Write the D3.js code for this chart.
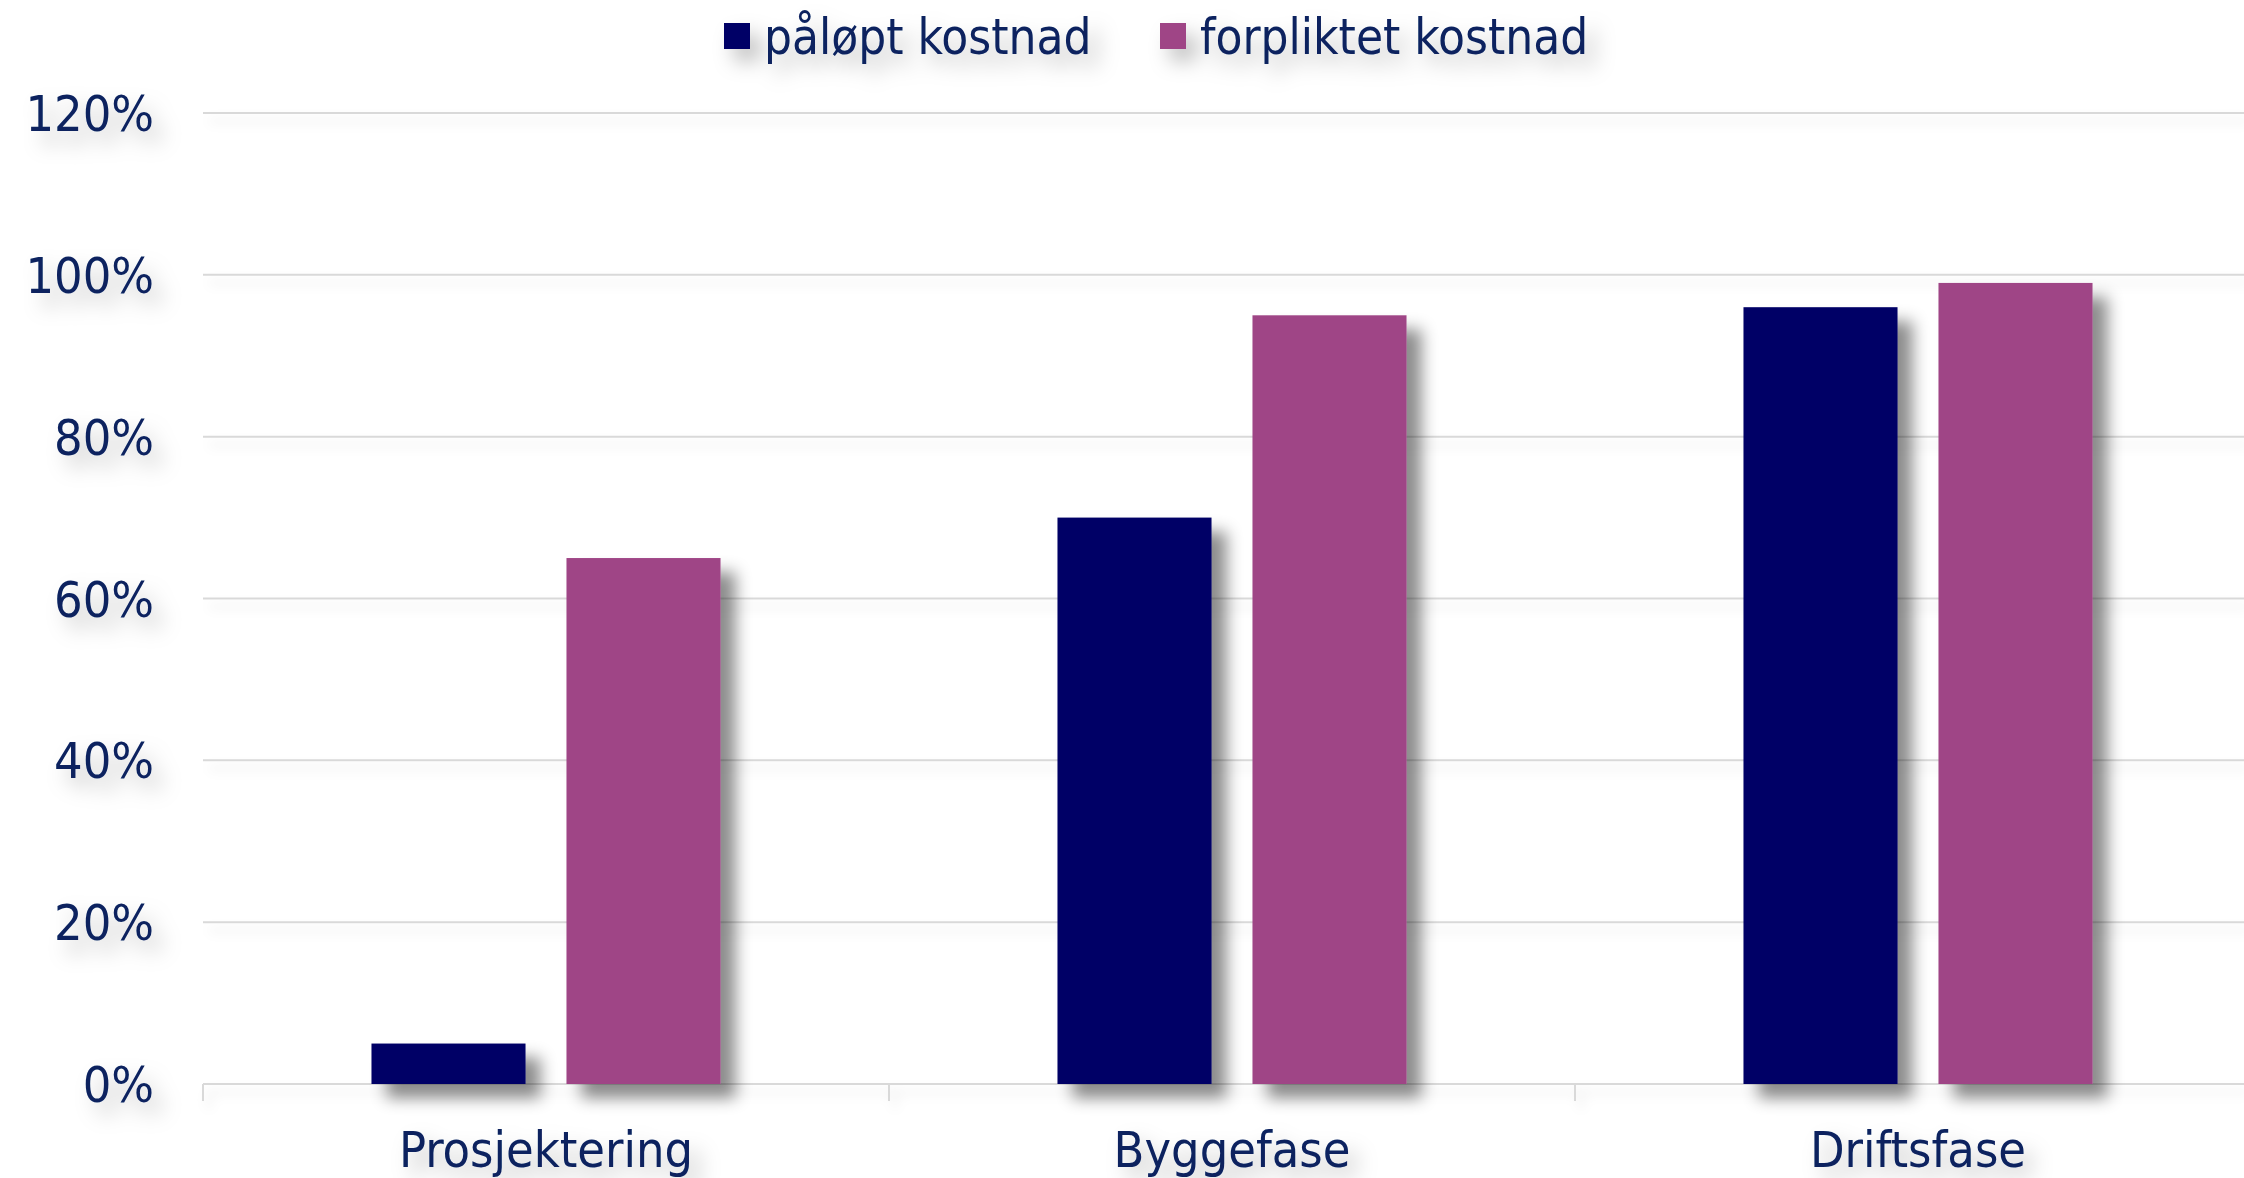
<!DOCTYPE html>
<html><head><meta charset="utf-8">
<script src="https://cdn.jsdelivr.net/npm/d3@7"></script>
<style>html,body{margin:0;padding:0;background:#fff;overflow:hidden}</style>
</head><body>
<svg id="c" width="2244" height="1178"></svg>
<script>
const categories = ["Prosjektering", "Byggefase", "Driftsfase"];
const seriesNames = ["påløpt kostnad", "forpliktet kostnad"];
const seriesColors = ["#000066", "#9F4586"];
const paloptValues = [5, 70, 96];
const forpliktetValues = [65, 95, 99];
const yTicks = [0, 20, 40, 60, 80, 100, 120];

const W = 2244, H = 1178;
const m = {left: 203, top: 113, bottom: H - 1084};
const bandW = 686;
const svg = d3.select("#c");
const textColor = "#08205E";
const font = "'DejaVu Sans Condensed','DejaVu Sans',sans-serif";

const defs = svg.append("defs");
const f1 = defs.append("filter").attr("id","barShadow").attr("x","-20%").attr("y","-20%").attr("width","150%").attr("height","150%");
f1.append("feDropShadow").attr("dx",15).attr("dy",14).attr("stdDeviation",8).attr("flood-color","#000").attr("flood-opacity",0.45);
const f2 = defs.append("filter").attr("id","textShadow").attr("x","-20%").attr("y","-40%").attr("width","150%").attr("height","220%");
f2.append("feDropShadow").attr("dx",10).attr("dy",12).attr("stdDeviation",10).attr("flood-color","#000").attr("flood-opacity",0.25);
const f3 = defs.append("filter").attr("id","lineShadow").attr("x","-5%").attr("y","-500%").attr("width","110%").attr("height","1100%");
f3.append("feDropShadow").attr("dx",6).attr("dy",8).attr("stdDeviation",6).attr("flood-color","#000").attr("flood-opacity",0.12);

const x0 = d3.scaleBand().domain(categories).range([m.left, m.left + bandW*categories.length]).padding(0);
const x1 = d3.scaleBand().domain(seriesNames).range([0, bandW]).paddingInner(0.21).paddingOuter(0.864);
const y = d3.scaleLinear().domain([0,120]).range([1084, 113]);

// gridlines
svg.append("g").attr("filter","url(#lineShadow)")
  .selectAll("line").data(yTicks.filter(d=>d>0)).join("line")
  .attr("x1", m.left).attr("x2", W).attr("y1", d=>y(d)).attr("y2", d=>y(d))
  .attr("stroke","#d9d9d9").attr("stroke-width",2);

// x axis
const xAxis = svg.append("g").attr("transform",`translate(0,${y(0)})`).attr("filter","url(#lineShadow)");
xAxis.append("line").attr("x1", m.left).attr("x2", W).attr("stroke","#d9d9d9").attr("stroke-width",2);
const boundaries = categories.map(c => x0(c)).concat([x0(categories[categories.length-1]) + x0.bandwidth()]);
xAxis.selectAll("line.t").data(boundaries).join("line").attr("class","t")
  .attr("x1", d=>d).attr("x2", d=>d).attr("y1",0).attr("y2",17)
  .attr("stroke","#d9d9d9").attr("stroke-width",2);

// bars
const data = categories.map((c,i)=>({cat:c, vals:[paloptValues[i], forpliktetValues[i]]}));
const g = svg.append("g").attr("filter","url(#barShadow)");
data.forEach(d=>{
  d.vals.forEach((v,j)=>{
    g.append("rect")
      .attr("x", x0(d.cat) + x1(seriesNames[j]))
      .attr("y", y(v))
      .attr("width", x1.bandwidth())
      .attr("height", y(0) - y(v))
      .attr("fill", seriesColors[j]);
  });
});

// y labels
const tg = svg.append("g").attr("filter","url(#textShadow)").attr("font-family", font).attr("font-size",50).attr("fill",textColor);
tg.selectAll("text.y").data(yTicks).join("text").attr("class","y")
  .attr("x",154).attr("y", d=>y(d)).attr("dy","0.36em").attr("text-anchor","end")
  .text(d=>d+"%");
tg.selectAll("text.x").data(categories).join("text").attr("class","x")
  .attr("x", d=>x0(d)+x0.bandwidth()/2).attr("y",1167).attr("text-anchor","middle")
  .text(d=>d);

// legend
const legX = [724, 1160];
const lg = svg.append("g").attr("filter","url(#textShadow)");
seriesNames.forEach((s,i)=>{
  lg.append("rect").attr("x",legX[i]).attr("y",23).attr("width",26).attr("height",26).attr("fill",seriesColors[i]);
  lg.append("text").attr("x",legX[i]+40).attr("y",54).attr("font-family",font).attr("font-size",49).attr("fill",textColor).text(s);
});
</script>
</body></html>
